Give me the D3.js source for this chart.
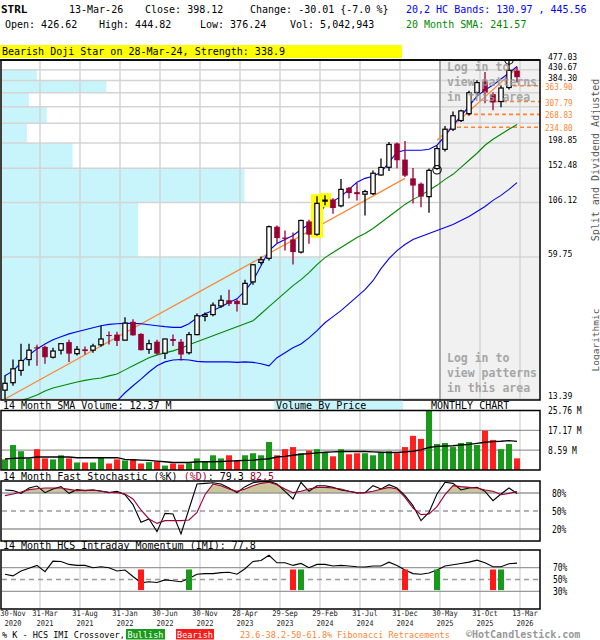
<!DOCTYPE html>
<html lang="en">
<head>
	<meta charset="UTF-8">
	<title>STRL monthly chart</title>
	<style>
		body { margin: 0; background: #fff; }
		svg text { font-family: "DejaVu Sans Mono", "Liberation Mono", monospace; }
	</style>
</head>
<body>
<script src="https://d3js.org/d3.v7.min.js"></script>
<script>
	// one candle per month, 30-Nov-2020 .. 13-Mar-2026 (65 months)
	let openP = [14.7, 15.9, 18.1, 20.3, 23.1, 23.2, 20.8, 22.4, 24.4, 21.6, 22.6, 22.4, 23.7, 26.3, 26.4, 24.9, 30.2, 26.6, 22.6, 24.5, 21.7, 25.2, 24.5, 21.8, 26.4, 32.0, 32.6, 35.7, 37.9, 37.7, 36.4, 46.0, 56.5, 59.0, 82.3, 73.4, 72.0, 63.0, 87.0, 76.0, 108.3, 109.7, 102.6, 124.0, 118.5, 116.0, 116.6, 142.0, 154.0, 198.0, 167.0, 137.0, 129.5, 113.0, 152.0, 186.0, 230.0, 252.0, 271.0, 338.0, 380.0, 333.0, 308.0, 357.0, 426.62];
	let highP = [17.2, 20.3, 24.0, 24.0, 23.7, 23.5, 23.0, 24.1, 25.0, 23.4, 23.3, 24.0, 29.0, 27.3, 27.2, 31.7, 31.0, 26.8, 25.0, 25.0, 25.3, 26.4, 25.2, 27.1, 33.0, 33.3, 37.0, 40.0, 42.3, 38.3, 47.1, 55.5, 60.1, 83.3, 83.3, 79.0, 77.5, 88.5, 88.5, 113.4, 114.8, 111.0, 136.0, 125.0, 130.5, 121.6, 149.0, 169.0, 201.0, 200.0, 203.0, 153.0, 131.0, 152.0, 193.0, 238.0, 277.0, 282.0, 345.0, 385.0, 420.0, 340.0, 365.0, 477.03, 444.82];
	let lowP = [13.39, 15.4, 17.1, 19.0, 19.0, 19.4, 20.5, 21.4, 19.8, 21.2, 21.4, 21.8, 23.2, 23.8, 23.4, 24.8, 26.1, 22.3, 21.6, 21.4, 20.4, 23.4, 20.1, 21.4, 26.2, 30.4, 32.0, 35.0, 35.7, 33.7, 36.2, 44.6, 55.3, 57.6, 69.2, 64.0, 55.2, 62.0, 68.8, 74.8, 103.2, 94.4, 101.0, 110.9, 108.6, 92.7, 115.0, 141.0, 148.0, 152.6, 139.0, 105.0, 101.0, 95.4, 150.0, 182.0, 226.0, 248.0, 266.0, 330.0, 302.0, 281.0, 290.0, 350.0, 376.24];
	let closeP = [15.8, 18.4, 20.1, 22.4, 22.8, 20.8, 22.2, 24.0, 21.6, 22.6, 22.2, 23.4, 25.2, 26.0, 24.7, 29.8, 26.2, 22.4, 24.0, 21.6, 25.2, 24.7, 21.4, 26.4, 32.2, 32.6, 36.0, 37.9, 36.5, 36.4, 45.3, 55.1, 58.1, 82.3, 73.0, 72.4, 63.0, 87.9, 75.7, 105.3, 108.9, 100.2, 122.0, 117.3, 116.0, 119.2, 144.6, 153.7, 195.8, 165.8, 141.0, 127.0, 113.0, 149.0, 187.5, 230.0, 265.0, 279.0, 338.0, 376.0, 338.0, 305.0, 355.0, 428.13, 398.12];
	// volume in millions
	let volume = [4.59, 10.81, 8.14, 4.89, 9.03, 5.03, 4.59, 6.37, 5.03, 3.26, 3.26, 3.26, 5.18, 2.81, 4.59, 4.15, 4.44, 2.81, 3.41, 3.70, 1.92, 2.81, 2.37, 2.96, 5.03, 3.85, 6.37, 5.03, 6.37, 3.85, 6.37, 7.25, 6.37, 12.14, 6.37, 9.03, 9.92, 7.25, 8.44, 9.03, 7.55, 5.92, 9.03, 6.81, 7.25, 7.25, 6.37, 7.70, 8.14, 7.25, 9.92, 14.8, 13.47, 25.76, 11.25, 11.70, 9.92, 11.70, 12.14, 10.81, 17.03, 13.03, 9.03, 11.25, 5.04];
	let volSma = [4.74, 5.03, 5.18, 5.18, 5.63, 5.63, 5.63, 5.63, 5.63, 5.33, 5.33, 5.33, 5.33, 5.33, 5.33, 4.59, 4.44, 4.29, 4.15, 3.85, 3.55, 3.26, 3.26, 3.26, 3.55, 3.55, 3.55, 3.70, 3.85, 4.00, 4.15, 4.29, 4.59, 4.89, 5.63, 5.92, 6.37, 6.81, 7.11, 7.40, 7.70, 7.85, 7.99, 7.99, 7.99, 7.99, 7.85, 7.70, 7.55, 7.55, 7.85, 8.14, 8.73, 9.77, 10.22, 10.36, 10.51, 10.81, 11.10, 11.55, 11.99, 12.29, 12.43, 12.73, 12.37];
	let lastVolume = 5042943;
	// 20,2 HC bands and 20 month SMA
	let upper = [17.1, 18.0, 19.6, 21.3, 22.7, 23.9, 25.0, 25.8, 26.6, 27.2, 27.8, 28.4, 29.0, 29.4, 29.6, 29.7, 29.7, 29.6, 29.3, 29.0, 28.7, 28.5, 28.5, 29.6, 31.5, 32.9, 34.0, 35.4, 37.0, 38.5, 41.9, 46.6, 54.6, 64.0, 68.9, 71.9, 75.0, 79.9, 84.3, 90.7, 103.0, 107.5, 113.3, 122.0, 131.4, 137.0, 140.0, 146.0, 162.3, 180.4, 184.2, 184.2, 184.2, 186.2, 194.3, 213.6, 240.0, 264.0, 293.4, 326.1, 347.4, 366.2, 390.2, 415.8, 445.56];
	let lower = [8.0, 8.5, 9.0, 9.5, 10.0, 10.4, 10.8, 11.2, 11.5, 11.8, 12.1, 12.4, 12.7, 12.9, 13.1, 14.3, 15.4, 16.5, 17.8, 19.0, 19.8, 20.2, 20.3, 20.2, 19.9, 19.8, 19.8, 19.8, 19.8, 19.7, 19.8, 19.7, 19.4, 19.0, 20.7, 21.8, 23.0, 23.9, 25.5, 27.5, 29.9, 31.9, 34.0, 36.6, 39.4, 42.4, 46.6, 52.9, 58.8, 64.0, 68.2, 71.9, 74.2, 76.6, 79.1, 81.6, 84.3, 87.9, 91.7, 96.6, 101.9, 108.6, 114.5, 122.0, 130.97];
	let sma = [12.44, 12.84, 13.18, 13.54, 13.97, 14.58, 15.04, 15.36, 15.69, 16.03, 16.29, 16.54, 16.72, 17.08, 17.44, 18.20, 18.99, 19.81, 20.66, 21.32, 21.78, 22.24, 22.84, 23.71, 24.47, 25.25, 26.07, 26.90, 27.77, 28.66, 29.58, 30.54, 32.89, 35.42, 38.14, 41.07, 44.22, 47.12, 50.74, 55.22, 59.45, 62.68, 66.08, 69.68, 73.47, 76.64, 80.80, 86.07, 91.71, 97.70, 104.1, 109.8, 114.5, 120.8, 127.3, 135.6, 143.0, 153.9, 165.8, 178.5, 194.2, 207.0, 218.3, 230.1, 241.57];
	// 14 month fast stochastic and IMI
	let stochK = [85, 84, 79.4, 88.3, 91.7, 80.6, 86.7, 90.6, 79.4, 85.6, 83.9, 85, 83.3, 80.6, 82.8, 77.2, 60.6, 31.1, 36.7, 15.6, 46.1, 45, 11.7, 53.3, 95, 96.1, 97.2, 95, 88.3, 80.6, 90.6, 97.2, 98.9, 99.4, 95, 82.8, 70, 97.8, 82.8, 92.2, 92.2, 89.4, 85, 82.8, 80, 80.6, 92.2, 86.7, 93.9, 88.3, 75.6, 58.9, 33.9, 47.8, 78.3, 97.8, 96.1, 85, 88.3, 89.4, 82.8, 67.2, 78.3, 88.3, 79.3];
	let stochD = [75.6, 78.3, 81.7, 85.6, 87.2, 88.3, 88.3, 88.3, 86.1, 83.9, 84.4, 85, 82.8, 81.1, 80.6, 78.3, 70, 51.7, 36.7, 29.4, 33.9, 33.9, 33.9, 35, 47.8, 77.2, 95, 92.2, 86.7, 82.8, 86.7, 92.2, 96.1, 97.8, 93.9, 86.7, 80.6, 82.8, 86.7, 89.4, 89.4, 88.3, 86.7, 82.8, 80.6, 80.6, 82.8, 86.1, 89.4, 86.7, 72.8, 55, 43.9, 45, 57.2, 77.2, 92.2, 90.6, 89.4, 88.3, 85, 82.8, 77.2, 79.4, 82.5];
	let imi = [58.9, 56.1, 64.4, 68.9, 73.9, 63.3, 81.1, 80.6, 75.6, 73.9, 73.9, 70, 71.7, 70, 64.4, 66.1, 55, 44.4, 46.1, 45, 49.4, 47.8, 46.1, 51.7, 58.9, 60, 60, 61.7, 62.2, 58.9, 68.3, 80.6, 82.2, 91.1, 78.3, 78.3, 73.9, 77.2, 70, 75.6, 75.6, 72.8, 73.9, 72.8, 71.7, 71.1, 72.8, 72.8, 79.4, 73.9, 66.1, 60, 58.9, 61.1, 66.1, 72.8, 75, 77.2, 79.4, 82.8, 78.3, 71.7, 71.7, 76.7, 77.8];
	let bearishIdx = [17, 36, 50, 61];
	let bullishIdx = [23, 37, 54, 62];
	// price ticks (linear steps on a log axis) and volume by price per band
	let priceTicks = [477.03, 430.67, 384.30, 337.94, 291.58, 245.21, 198.85, 152.48, 106.12, 59.75, 13.39];
	let priceLabels = [477.03, 430.67, 384.30, 198.85, 152.48, 106.12, 59.75, 13.39];
	let vbpVol = [0, 35, 105, 27, 45, 25, 71, 244, 137, 320];
	let fibLevels = [363.90, 307.79, 268.83, 234.80];
	let fibFrom = [63.5, 60.5, 57.75, 56.5];
	let trendA = [[0, 13.39], [50, 137.0]];
	let trendB = [[54, 204.8], [64, 438.6]];
	let patternIdx = [39, 40];
	let markIdx = [54, 63];
	let loginFrom = 54;
	let volTicks = [8.59, 17.17, 25.76];
	let tickIdx = [0, 4, 9, 14, 19, 24, 29, 34, 39, 44, 49, 54, 59, 64];
	let tickTop = ['30-Nov', '31-Mar', '31-Aug', '31-Jan', '30-Jun', '30-Nov', '28-Apr', '29-Sep', '29-Feb', '31-Jul', '31-Dec', '30-May', '31-Oct', '13-Mar'];
	let tickBottom = ['2020', '2021', '2021', '2022', '2022', '2022', '2023', '2023', '2024', '2024', '2024', '2025', '2025', '2026'];

	let width = 600;
	let height = 640;
	let last = closeP.length - 1;
	let red = '#990033';
	let green = '#1a9a1a';
	let orange = '#ff8533';
	let idx = d3.range(closeP.length);
	let isUp = function(i) { return closeP[i] >= openP[i]; };

	let x = d3.scaleLinear().domain([0, last]).range([5, 517]);
	let gx = function(i) { return x(i) + 3; };
	let y = d3.scaleLog().domain([13.39, 477.03]).range([399, 60]);
	let yVol = d3.scaleLinear().domain([0, 25.76]).range([470, 410.5]);
	let yStoch = d3.scaleLinear().domain([0, 100]).range([541, 481]);
	let yImi = d3.scaleLinear().domain([0, 100]).range([609, 550]);
	let xVbp = d3.scaleLinear().domain([0, d3.max(vbpVol)]).range([0, 318]);

	let svg = d3.select('body')
			.append('svg')
			.attr('width', width)
			.attr('height', height)
			.style('display', 'block');
	svg.append('rect').attr('width', width).attr('height', height).attr('fill', '#fff');

	function label(parent, px, py, str, o) {
		o = o || {};
		return parent.append('text')
				.attr('transform', 'translate(' + px + ',' + py + ') scale(' + (o.sx || 1) + ',1)')
				.attr('font-size', (o.size || 10) + 'px')
				.attr('font-weight', o.bold ? 'bold' : null)
				.attr('fill', o.color || '#000')
				.attr('text-anchor', o.anchor || 'start')
				.text(str);
	}

	// header
	let chg = closeP[last] - closeP[last - 1];
	label(svg, 1, 13, 'STRL', { size: 11, bold: true });
	label(svg, 69, 13, '13-Mar-26');
	label(svg, 145, 13, 'Close: ' + closeP[last].toFixed(2));
	label(svg, 250, 13, 'Change: ' + chg.toFixed(2) + ' {' + (chg / closeP[last - 1] * 100).toFixed(1) + ' %}');
	label(svg, 406, 13, '20,2 HC Bands: ' + lower[last].toFixed(2) + ' , ' + upper[last].toFixed(2), { color: '#0000ff' });
	label(svg, 5, 28, 'Open: ' + openP[last].toFixed(2));
	label(svg, 99, 28, 'High: ' + highP[last].toFixed(2));
	label(svg, 200, 28, 'Low: ' + lowP[last].toFixed(2));
	label(svg, 290, 28, 'Vol: ' + d3.format(',')(lastVolume));
	label(svg, 406, 28, '20 Month SMA: ' + sma[last].toFixed(2), { color: '#008800' });
	svg.append('rect').attr('x', 0).attr('y', 45).attr('width', 402).attr('height', 13).attr('fill', '#ffff00');
	label(svg, 2, 55, 'Bearish Doji Star on 28-Mar-24, Strength: 338.9');

	// ---------- main price panel
	svg.append('clipPath').attr('id', 'clip-main')
			.append('rect').attr('x', 1).attr('y', 60).attr('width', 539).attr('height', 340);
	let main = svg.append('g').attr('clip-path', 'url(#clip-main)');

	main.selectAll('.vbp')
			.data(vbpVol)
			.enter()
			.append('rect')
			.attr('x', 2)
			.attr('y', function(d, k) { return y(priceTicks[k]); })
			.attr('width', function(d) { return xVbp(d); })
			.attr('height', function(d, k) { return y(priceTicks[k + 1]) - y(priceTicks[k]); })
			.attr('fill', '#c8f4fb');

	main.append('rect')
			.attr('x', gx(loginFrom)).attr('y', 60)
			.attr('width', 540 - gx(loginFrom)).attr('height', 340)
			.attr('fill', '#f1f1f1');

	main.selectAll('.hgrid')
			.data(priceTicks)
			.enter()
			.append('line')
			.attr('x1', 2).attr('x2', 540)
			.attr('y1', function(d) { return y(d); })
			.attr('y2', function(d) { return y(d); })
			.attr('stroke', '#d4d4d4')
			.attr('stroke-width', 1.5);
	main.selectAll('.vgrid')
			.data(tickIdx.slice(1))
			.enter()
			.append('line')
			.attr('x1', function(d) { return gx(d); })
			.attr('x2', function(d) { return gx(d); })
			.attr('y1', 60).attr('y2', 400)
			.attr('stroke', '#d4d4d4')
			.attr('stroke-width', 1.5);
	main.append('line')
			.attr('x1', gx(loginFrom)).attr('x2', gx(loginFrom))
			.attr('y1', 60).attr('y2', 400)
			.attr('stroke', '#999').attr('stroke-width', 1.5);

	let trendLine = d3.line()
			.x(function(d) { return x(d[0]); })
			.y(function(d) { return y(d[1]); });
	[trendA, trendB].forEach(function(t) {
		main.append('path')
				.attr('d', trendLine(t))
				.attr('fill', 'none')
				.attr('stroke', orange)
				.attr('stroke-width', 1.2);
	});

	main.selectAll('.fib')
			.data(fibLevels)
			.enter()
			.append('line')
			.attr('x1', function(d, k) { return x(fibFrom[k]); })
			.attr('x2', 540)
			.attr('y1', function(d) { return y(d); })
			.attr('y2', function(d) { return y(d); })
			.attr('stroke', orange)
			.attr('stroke-width', 1.6)
			.attr('stroke-dasharray', '4,3');

	let seriesLine = d3.line()
			.x(function(d, i) { return x(i); })
			.y(function(d) { return y(d); });
	[[upper, '#0000ee'], [lower, '#0000ee'], [sma, '#008800']].forEach(function(s) {
		main.append('path')
				.attr('d', seriesLine(s[0]))
				.attr('fill', 'none')
				.attr('stroke', s[1])
				.attr('stroke-width', 1.1);
	});

	// pattern highlight behind the candles
	main.selectAll('.hl')
			.data(patternIdx)
			.enter()
			.append('rect')
			.attr('x', function(i) { return x(i) - 6; })
			.attr('y', function(i) { return y(highP[i]) - 2; })
			.attr('width', 12)
			.attr('height', function(i) { return y(lowP[i]) - y(highP[i]) + 4; })
			.attr('fill', '#ffff00');

	main.selectAll('.wick')
			.data(idx)
			.enter()
			.append('line')
			.attr('x1', function(i) { return x(i); })
			.attr('x2', function(i) { return x(i); })
			.attr('y1', function(i) { return y(highP[i]); })
			.attr('y2', function(i) { return y(lowP[i]); })
			.attr('stroke', function(i) { return isUp(i) ? '#000' : red; })
			.attr('stroke-width', 1.3);
	main.selectAll('.body')
			.data(idx)
			.enter()
			.append('rect')
			.attr('x', function(i) { return isUp(i) ? x(i) - 2.2 : x(i) - 2.8; })
			.attr('width', function(i) { return isUp(i) ? 4.4 : 5.6; })
			.attr('y', function(i) { return y(Math.max(openP[i], closeP[i])); })
			.attr('height', function(i) { return Math.max(1, Math.abs(y(openP[i]) - y(closeP[i]))); })
			.attr('fill', function(i) { return isUp(i) ? '#fff' : red; })
			.attr('stroke', function(i) { return isUp(i) ? '#000' : 'none'; })
			.attr('stroke-width', 1.2);

	main.selectAll('.mark')
			.data(markIdx)
			.enter()
			.append('circle')
			.attr('cx', function(i) { return x(i); })
			.attr('cy', function(i, k) { return k === 0 ? y(lowP[i]) : y(highP[i]); })
			.attr('r', 4.2)
			.attr('fill', 'none')
			.attr('stroke', '#000')
			.attr('stroke-width', 1.1);

	['Log in to', 'view patterns', 'in this area'].forEach(function(s, k) {
		label(main, 447, 71 + 15 * k, s, { size: 11.5, bold: true, color: '#9a9a9a' }).attr('opacity', 0.85);
		label(main, 447, 362 + 15 * k, s, { size: 11.5, bold: true, color: '#9a9a9a' }).attr('opacity', 0.85);
	});

	svg.append('rect').attr('x', 1).attr('y', 60).attr('width', 539).attr('height', 340)
			.attr('fill', 'none').attr('stroke', '#000').attr('stroke-width', 1.5);
	svg.append('line').attr('x1', 0).attr('x2', 540).attr('y1', 60).attr('y2', 60)
			.attr('stroke', '#000').attr('stroke-width', 1.5);

	priceLabels.forEach(function(p) {
		label(svg, 548, y(p), p.toFixed(2), { size: 9, sx: 0.9 });
	});
	fibLevels.forEach(function(p) {
		label(svg, 545, y(p) + 4, p.toFixed(2), { size: 8.5, sx: 0.9, color: orange });
	});
	label(svg, 0, 0, 'Split and Dividend Adjusted', { color: '#555' })
			.attr('transform', 'translate(599,160) rotate(-90)').attr('text-anchor', 'middle');
	label(svg, 0, 0, 'Logarithmic', { size: 9.5, color: '#555' })
			.attr('transform', 'translate(599,340) rotate(-90)').attr('text-anchor', 'middle');

	// ---------- volume panel
	label(svg, 3, 409, '14 Month SMA Volume: ' + volSma[last].toFixed(2) + ' M');
	svg.append('rect').attr('x', 274).attr('y', 400.8).attr('width', 129).attr('height', 9).attr('fill', '#c8f4fb');
	label(svg, 276, 409, 'Volume By Price');
	label(svg, 431, 409, 'MONTHLY CHART');

	function lowerGrid(top, bottom) {
		svg.selectAll(null)
				.data(tickIdx.slice(1))
				.enter()
				.append('line')
				.attr('x1', function(d) { return gx(d); })
				.attr('x2', function(d) { return gx(d); })
				.attr('y1', top).attr('y2', bottom)
				.attr('stroke', '#d4d4d4')
				.attr('stroke-width', 1.3);
	}
	function hLine(yy, dashed) {
		svg.append('line')
				.attr('x1', 2).attr('x2', 540).attr('y1', yy).attr('y2', yy)
				.attr('stroke', '#9a9a9a').attr('stroke-width', 1.3)
				.attr('stroke-dasharray', dashed ? '5,4' : null);
	}
	function frame(top, bottom) {
		svg.append('rect').attr('x', 1).attr('y', top).attr('width', 539).attr('height', bottom - top)
				.attr('fill', 'none').attr('stroke', '#000').attr('stroke-width', 1.5);
	}

	lowerGrid(410.5, 470);
	hLine(yVol(volTicks[0]));
	hLine(yVol(volTicks[1]));
	svg.selectAll('.vol')
			.data(idx)
			.enter()
			.append('rect')
			.attr('x', function(i) { return x(i) - 3; })
			.attr('width', 6)
			.attr('y', function(i) { return yVol(volume[i]); })
			.attr('height', function(i) { return yVol(0) - yVol(volume[i]); })
			.attr('fill', function(i) { return isUp(i) ? green : '#ff2020'; });
	svg.append('path')
			.attr('d', d3.line().x(function(d, i) { return x(i); }).y(function(d) { return yVol(d); })(volSma))
			.attr('fill', 'none')
			.attr('stroke', '#000')
			.attr('stroke-width', 1.4);
	frame(410.5, 470);
	volTicks.forEach(function(v) {
		label(svg, 548, yVol(v) + 3.5, v.toFixed(2) + ' M', { sx: 0.8 });
	});

	// ---------- stochastic panel
	let st = label(svg, 3, 479.5, '14 Month Fast Stochastic (%K) ');
	st.append('tspan').attr('fill', red).text('(%D)');
	st.append('tspan').text(': ' + stochK[last].toFixed(1) + '  ');
	st.append('tspan').attr('fill', red).text(stochD[last].toFixed(1));

	lowerGrid(481, 541);
	svg.append('path')
			.attr('d', d3.area()
					.x(function(d, i) { return x(i); })
					.y0(yStoch(80))
					.y1(function(d) { return yStoch(Math.max(d, 80)); })(stochD))
			.attr('fill', '#cbc59b');
	hLine(yStoch(80));
	hLine(yStoch(50), true);
	hLine(yStoch(20));
	let stLine = d3.line().x(function(d, i) { return x(i); }).y(function(d) { return yStoch(d); });
	svg.append('path').attr('d', stLine(stochK)).attr('fill', 'none').attr('stroke', '#000').attr('stroke-width', 1.1);
	svg.append('path').attr('d', stLine(stochD)).attr('fill', 'none').attr('stroke', red).attr('stroke-width', 1.1);
	frame(481, 541);
	[80, 50, 20].forEach(function(v) {
		label(svg, 552, yStoch(v) + 3.5, v + '%', { sx: 0.8 });
	});

	// ---------- IMI panel
	label(svg, 3, 549, '14 Month HCS Intraday Momentum (IMI): ' + imi[last].toFixed(1));
	lowerGrid(550, 609);
	hLine(yImi(70));
	hLine(yImi(50), true);
	hLine(yImi(30));
	svg.append('path')
			.attr('d', d3.line().x(function(d, i) { return x(i); }).y(function(d) { return yImi(d); })(imi))
			.attr('fill', 'none').attr('stroke', '#000').attr('stroke-width', 1.1);
	[[bearishIdx, '#ff1a1a'], [bullishIdx, green]].forEach(function(c) {
		svg.selectAll(null)
				.data(c[0])
				.enter()
				.append('rect')
				.attr('x', function(i) { return x(i) - 3; })
				.attr('width', 6)
				.attr('y', yImi(67))
				.attr('height', yImi(32) - yImi(67))
				.attr('fill', c[1]);
	});
	frame(550, 609);
	[70, 50, 30].forEach(function(v) {
		label(svg, 553, yImi(v) + 3.5, v + '%', { sx: 0.8 });
	});

	// ---------- date axis
	tickIdx.forEach(function(i, k) {
		label(svg, x(i) + 8, 616, tickTop[k], { size: 8, sx: 0.88, color: '#222', anchor: 'middle' });
		label(svg, x(i) + 8, 625.8, tickBottom[k], { size: 8, sx: 0.88, color: '#222', anchor: 'middle' });
	});

	// ---------- legend
	label(svg, 2, 638, '% K - HCS IMI Crossover,', { size: 8.5 });
	svg.append('rect').attr('x', 126).attr('y', 629).attr('width', 39).attr('height', 10.5).attr('fill', green);
	label(svg, 145.5, 638, 'Bullish', { size: 8.5, color: '#fff', anchor: 'middle' });
	svg.append('rect').attr('x', 176).attr('y', 629).attr('width', 38).attr('height', 10.5).attr('fill', '#ff1a1a');
	label(svg, 195, 638, 'Bearish', { size: 8.5, color: '#fff', anchor: 'middle' });
	label(svg, 240, 638, '23.6-38.2-50-61.8% Fibonacci Retracements', { size: 8.5, color: orange });
	label(svg, 466, 638, '\u00a9HotCandlestick.com', { size: 10, bold: true, color: '#999' });
</script>
</body>
</html>
